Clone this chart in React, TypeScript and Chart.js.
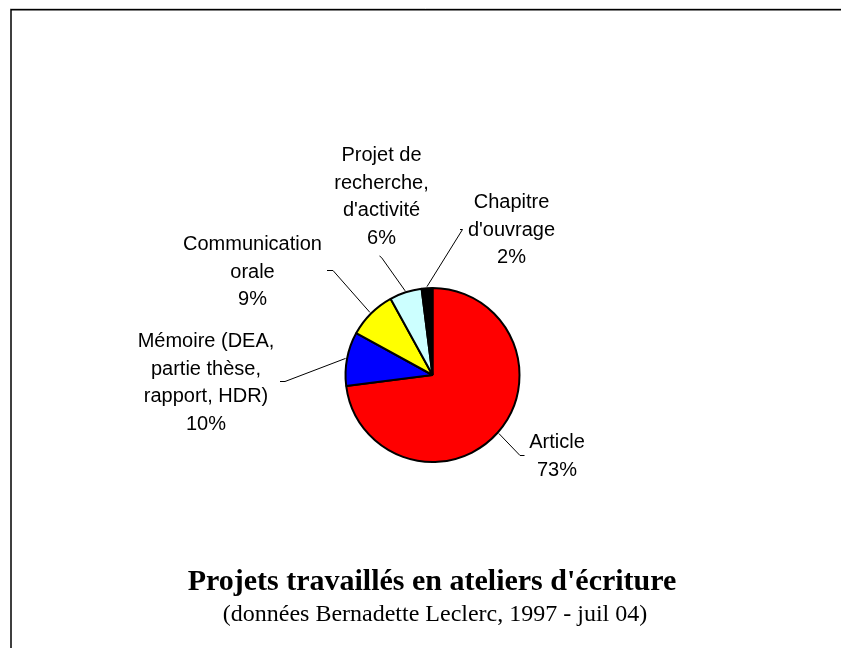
import { useEffect, useRef } from "react";
import { Chart, registerables } from "chart.js";

Chart.register(...registerables);

const categories = [
  "Article",
  "Mémoire (DEA, partie thèse, rapport, HDR)",
  "Communication orale",
  "Projet de recherche, d'activité",
  "Chapitre d'ouvrage",
];
const labelLines = [
  ["Article"],
  ["Mémoire (DEA,", "partie thèse,", "rapport, HDR)"],
  ["Communication", "orale"],
  ["Projet de", "recherche,", "d'activité"],
  ["Chapitre", "d'ouvrage"],
];
const values = [73, 10, 9, 6, 2];
const colors = ["#FF0000", "#0000FF", "#FFFF00", "#CCFFFF", "#000000"];
const titleText = "Projets travaillés en ateliers d'écriture";
const subtitleText = "(données Bernadette Leclerc, 1997 - juil 04)";

// label block placement (text centre x, first baseline) and leader elbow/end points
const labelLayout = [
  { cx: 557, base: 448, elbow: [520, 455.5], end: [524.5, 455.5] },
  { cx: 206, base: 347, elbow: [285, 381.5], end: [280, 381.5] },
  { cx: 252.5, base: 250, elbow: [333, 270.5], end: [327, 270.5] },
  { cx: 381.5, base: 161, elbow: [381.5, 257.5], end: [379.5, 256] },
  { cx: 511.5, base: 208, elbow: [462.5, 229.5], end: [460, 229.5] },
];

const labelPlugin = {
  id: "excelLabels",
  afterDraw(chart: any) {
    const ctx = chart.ctx as CanvasRenderingContext2D;
    const meta = chart.getDatasetMeta(0);
    const total = values.reduce((a, b) => a + b, 0);
    ctx.save();

    // outer frame
    ctx.strokeStyle = "#d0d0d0";
    ctx.lineWidth = 1;
    ctx.beginPath();
    ctx.moveTo(10, 8.5);
    ctx.lineTo(841, 8.5);
    ctx.stroke();
    ctx.strokeStyle = "#000";
    ctx.lineWidth = 1.5;
    ctx.beginPath();
    ctx.moveTo(11, 648);
    ctx.lineTo(11, 9.75);
    ctx.lineTo(841, 9.75);
    ctx.stroke();

    // labels with leader lines
    meta.data.forEach((arc: any, i: number) => {
      const p = arc.getProps(["x", "y", "startAngle", "endAngle", "outerRadius"], true);
      const mid = (p.startAngle + p.endAngle) / 2;
      const ex = p.x + Math.cos(mid) * (p.outerRadius + 1.5);
      const ey = p.y + Math.sin(mid) * (p.outerRadius + 1.5);
      const L = labelLayout[i];
      ctx.strokeStyle = "#000";
      ctx.lineWidth = 1;
      ctx.beginPath();
      ctx.moveTo(ex, ey);
      ctx.lineTo(L.elbow[0], L.elbow[1]);
      ctx.lineTo(L.end[0], L.end[1]);
      ctx.stroke();

      const pct = Math.round((values[i] / total) * 100) + "%";
      const lines = [...labelLines[i], pct];
      ctx.font = '20px "Liberation Sans", Arial, sans-serif';
      ctx.fillStyle = "#000";
      ctx.textAlign = "center";
      ctx.textBaseline = "alphabetic";
      lines.forEach((t, k) => ctx.fillText(t, L.cx, L.base + k * 27.5));
    });

    // title and subtitle
    ctx.textAlign = "center";
    ctx.textBaseline = "alphabetic";
    ctx.fillStyle = "#000";
    ctx.font = 'bold 30px "Liberation Serif", "Times New Roman", serif';
    ctx.fillText(titleText, 432, 590);
    ctx.font = '24px "Liberation Serif", "Times New Roman", serif';
    ctx.fillText(subtitleText, 435, 621);
    ctx.restore();
  },
};

export default function App() {
  const ref = useRef<HTMLCanvasElement | null>(null);
  useEffect(() => {
    if (!ref.current) return;
    const chart = new Chart(ref.current, {
      type: "pie",
      data: {
        labels: categories,
        datasets: [
          {
            data: values,
            backgroundColor: colors,
            borderColor: "#000",
            borderWidth: 2,
            radius: 87,
          } as any,
        ],
      },
      options: {
        responsive: false,
        animation: false,
        layout: { padding: { left: 24, right: 0, top: 102, bottom: 0 } },
        plugins: {
          legend: { display: false },
          tooltip: { enabled: false },
          title: { display: false },
        },
      },
      plugins: [labelPlugin],
    });
    return () => chart.destroy();
  }, []);
  return (
    <div style={{ position: "absolute", left: 0, top: 0, width: 841, height: 648, background: "#fff" }}>
      <canvas ref={ref} width={841} height={648} style={{ display: "block" }} />
    </div>
  );
}
